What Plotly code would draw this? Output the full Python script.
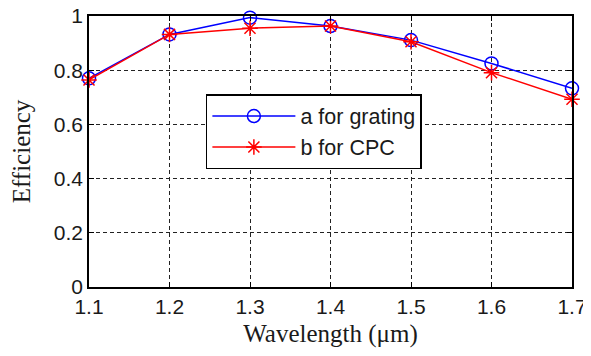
import plotly.graph_objects as go

wavelength = [1.1, 1.2, 1.3, 1.4, 1.5, 1.6, 1.7]
grating = [0.770, 0.932, 0.994, 0.963, 0.911, 0.825, 0.733]
cpc = [0.764, 0.932, 0.955, 0.963, 0.905, 0.791, 0.693]
x_ticks = [1.1, 1.2, 1.3, 1.4, 1.5, 1.6, 1.7]
y_ticks = [0, 0.2, 0.4, 0.6, 0.8, 1]

fig = go.Figure()
fig.add_trace(go.Scatter(
    x=wavelength, y=grating, mode="lines+markers", name="a for grating",
    line=dict(color="#0000ff", width=1.5),
    marker=dict(symbol="circle-open", size=13, color="#0000ff", line=dict(width=1.5)),
    cliponaxis=False,
))
fig.add_trace(go.Scatter(
    x=wavelength, y=cpc, mode="lines+markers", name="b for CPC",
    line=dict(color="#ff0000", width=1.5),
    marker=dict(symbol="asterisk-open", size=13, color="#ff0000", line=dict(width=1.5, color="#ff0000")),
    cliponaxis=False,
))

tick_font = dict(family="Liberation Sans, Arial", size=21, color="#1a1a1a")
legend_font = dict(family="Liberation Sans, Arial", size=21.5, color="#1a1a1a")
title_font = dict(family="Liberation Serif, Times New Roman", size=25, color="#1a1a1a")

axis_common = dict(
    showline=True, linecolor="black", linewidth=1.5, mirror="ticks",
    ticks="inside", ticklen=5, tickcolor="black", tickwidth=1,
    showgrid=True, gridcolor="#222", gridwidth=1, griddash="4px,3px",
    zeroline=False,
    tickfont=tick_font,
    ticklabeloverflow="allow",
)

fig.update_xaxes(
    range=[1.1, 1.7], tickvals=x_ticks, ticktext=[f"{v:g}" for v in x_ticks],
    title=dict(text="Wavelength (μm)", font=title_font, standoff=12),
    **axis_common,
)
fig.update_yaxes(
    range=[0, 1], tickvals=y_ticks, ticktext=[f"{v:g}" for v in y_ticks],
    title=dict(text="Efficiency", font=title_font, standoff=16),
    **axis_common,
)

# the page body adds an 8px offset, so the figure is 8px smaller than the window
fig.update_layout(
    width=583, height=340,
    margin=dict(l=81, r=19, t=8, b=61, autoexpand=False),
    paper_bgcolor="white", plot_bgcolor="white",
    showlegend=True,
    legend=dict(
        x=0.242, y=0.712, xanchor="left", yanchor="top",
        bgcolor="white", bordercolor="black", borderwidth=1.5,
        font=legend_font,
        itemwidth=83, tracegroupgap=0,
    ),
)

fig.write_html("out.html")
